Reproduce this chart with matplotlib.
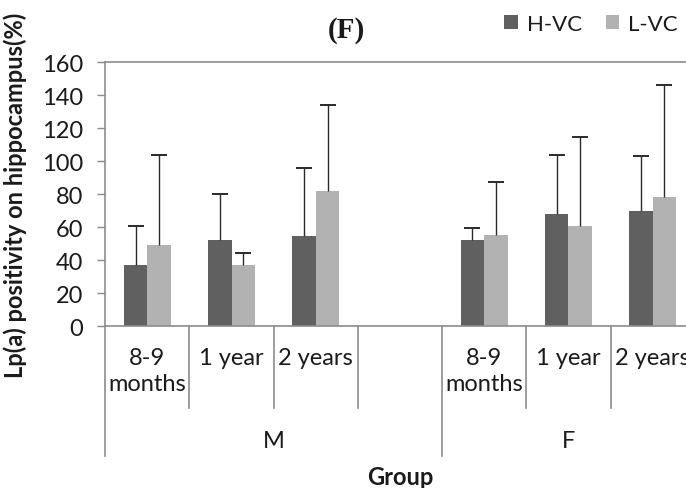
import numpy as np
import matplotlib
matplotlib.use("Agg")
import matplotlib.pyplot as plt
from matplotlib.patches import Patch
from matplotlib.lines import Line2D

plt.rcParams['font.family'] = ['Lato', 'DejaVu Sans']

# ---- data ----
categories = ["8-9\nmonths", "1 year", "2 years", "", "8-9\nmonths", "1 year", "2 years"]
groups = ["M", "F"]
group_spans = [(0, 3), (4, 6)]          # first / last category index of each group
series_names = ["H-VC", "L-VC"]
hvc_mean = [37, 52.5, 54.5, np.nan, 52.5, 68, 70]
hvc_err = [23.5, 27.5, 41.5, np.nan, 7, 36, 33]
lvc_mean = [49.5, 37, 82, np.nan, 55.5, 61, 78.5]
lvc_err = [54.5, 7.5, 52, np.nan, 32, 54, 67.5]
yticks = [0, 20, 40, 60, 80, 100, 120, 140, 160]

dark = "#5f605f"
light = "#b2b2b2"
axis_gray = "#8c8c8c"
txt = "#1a1a1a"
FS = 17

W, H = 686, 489
fig = plt.figure(figsize=(W / 100, H / 100), dpi=100)
left_px, right_px, top_px, bot_px = 105.3, 694.7, 63.3, 327.3
ax = fig.add_axes([left_px / W, 1 - bot_px / H, (right_px - left_px) / W, (bot_px - top_px) / H])

x = np.arange(len(categories))
bw = 0.28
for vals, errs, col, off in [(hvc_mean, hvc_err, dark, -bw / 2), (lvc_mean, lvc_err, light, bw / 2)]:
    v = np.array(vals, dtype=float)
    e = np.array(errs, dtype=float)
    ax.bar(x + off, v, width=bw, color=col, edgecolor='none', zorder=2)
    ax.vlines(x + off, v, v + e, color='#2a2a2a', lw=1.0, zorder=3)
    ax.plot(x + off, v + e, ls='none', marker='_', ms=11, mew=1.4, color='#2a2a2a', zorder=3)

ax.set_xlim(-0.5, len(categories) - 0.5)
ax.set_ylim(0, 160)
ax.set_yticks(yticks)
ax.tick_params(axis='y', direction='out', length=6, width=1, color=axis_gray,
               labelsize=FS, pad=10, labelcolor=txt)
ax.set_xticks([])
for s in ['left', 'bottom', 'top']:
    ax.spines[s].set_color(axis_gray)
    ax.spines[s].set_linewidth(1.2)
ax.spines['right'].set_visible(False)

# category separators and labels
span = bot_px - top_px
short_len = 81.4 / span
long_len = 129.4 / span
trans = ax.get_xaxis_transform()
group_starts = [g[0] for g in group_spans]
for k in range(len(categories)):
    b = k - 0.5
    ln = long_len if k in group_starts else short_len
    ax.add_line(Line2D([b, b], [0, -ln], transform=trans, color=axis_gray, lw=1.2, clip_on=False))
for k, lab in enumerate(categories):
    ax.text(k, -21 / span, lab, transform=trans, ha='center', va='top',
            fontsize=FS, color=txt, linespacing=1.25)
for name, (a, b) in zip(groups, group_spans):
    ax.text((a - 0.5 + b + 0.5) / 2, -(441.7 - bot_px) / span, name,
            transform=trans, ha='center', va='center', fontsize=FS, color=txt)

fig.text(400 / W, 1 - 478 / H, "Group", ha='center', va='center', fontsize=FS,
         fontweight='bold', color=txt)
fig.text(15 / W, 1 - 195.3 / H, "Lp(a) positivity on hippocampus(%)", rotation=90,
         ha='center', va='center', fontsize=FS, fontweight='bold', color=txt)
fig.text(346.7 / W, 1 - 30 / H, "(F)", ha='center', va='center', fontsize=21,
         fontweight='bold', family='Liberation Serif', color=txt)

handles = [Patch(facecolor=dark), Patch(facecolor=light)]
fig.legend(handles, series_names, ncol=2, frameon=False, loc='center right',
           bbox_to_anchor=(678 / W, 1 - 25 / H), fontsize=16, handlelength=0.6,
           handleheight=0.6, handletextpad=0.4, columnspacing=1.1, borderpad=0,
           borderaxespad=0, labelcolor=txt)

fig.savefig("out.png", dpi=100)
